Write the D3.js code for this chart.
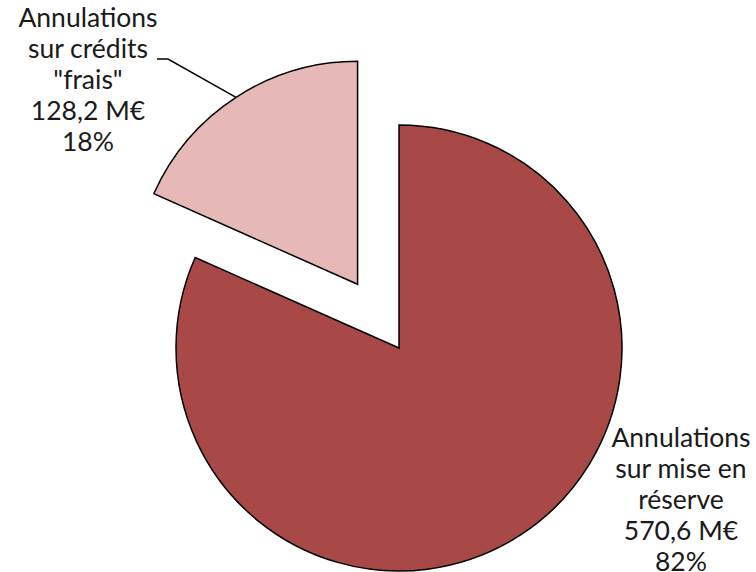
<!DOCTYPE html>
<html>
<head>
<meta charset="utf-8">
<script src="https://cdn.jsdelivr.net/npm/d3@7"></script>
<style>
  body { margin: 0; background: #fff; }
  text { font-family: "Lato", "Open Sans", sans-serif; font-weight: 400; fill: #1a1a1a; }
</style>
</head>
<body>
<svg id="chart" width="756" height="572"></svg>
<script>
// data
const categories = ["Annulations sur mise en réserve", "Annulations sur crédits \"frais\""];
const values = [570.6, 128.2];
const percentLabels = ["82%", "18%"];
const labelLines = [
  ["Annulations", "sur mise en", "réserve", "570,6 M€", "82%"],
  ["Annulations", "sur crédits", "\"frais\"", "128,2 M€", "18%"]
];
const colors = ["#A94947", "#E6B8B7"];

const svg = d3.select("#chart");
const cx = 399, cy = 348, radius = 223;
const explode = [0, 76];

const g = svg.append("g").attr("transform", "translate(" + cx + "," + cy + ")");

const pie = d3.pie().sort(null).value(d => d);
const arc = d3.arc().innerRadius(0).outerRadius(radius);
const arcs = pie(values);

// slices
g.selectAll("path.slice")
  .data(arcs)
  .enter()
  .append("path")
  .attr("class", "slice")
  .attr("fill", (d, i) => colors[i])
  .attr("stroke", "#000")
  .attr("stroke-width", 1.5)
  .attr("transform", (d, i) => {
    const mid = (d.startAngle + d.endAngle) / 2;
    return "translate(" + Math.sin(mid) * explode[i] + "," + (-Math.cos(mid) * explode[i]) + ")";
  })
  .attr("d", arc);

// leader line for small slice, ends on the middle of its arc
const small = arcs[1];
const smid = (small.startAngle + small.endAngle) / 2;
const ox = cx + Math.sin(smid) * explode[1], oy = cy - Math.cos(smid) * explode[1];
const ax = ox + Math.sin(smid) * radius, ay = oy - Math.cos(smid) * radius;
svg.append("polyline")
  .attr("points", [[157, 59], [168, 59], [ax, ay]].map(p => p.join(",")).join(" "))
  .attr("fill", "none")
  .attr("stroke", "#000")
  .attr("stroke-width", 1.5);

// labels
const labelPos = [{x: 681, y: 447}, {x: 88, y: 27}];
const lineH = 31;
labelLines.forEach((lines, i) => {
  const t = svg.append("text")
    .attr("text-anchor", "middle")
    .attr("font-size", 26.5);
  lines.forEach((l, j) => {
    t.append("tspan")
      .attr("x", labelPos[i].x)
      .attr("y", labelPos[i].y + j * lineH)
      .text(l);
  });
});
</script>
</body>
</html>
